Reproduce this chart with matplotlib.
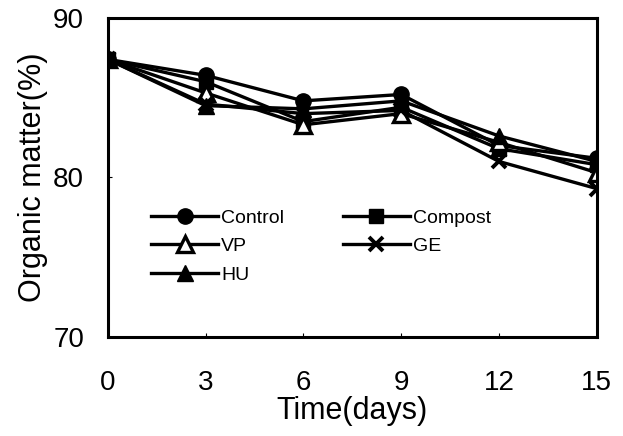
import matplotlib.pyplot as plt

plt.rcParams['font.family'] = ['Liberation Sans', 'DejaVu Sans']

days = [0, 3, 6, 9, 12, 15]
control = [87.4, 86.4, 84.8, 85.2, 82.0, 81.2]
compost = [87.4, 86.0, 83.5, 84.4, 81.8, 80.8]
vp = [87.4, 85.3, 83.3, 84.0, 82.2, 80.3]
ge = [87.4, 84.6, 84.0, 84.2, 81.0, 79.3]
hu = [87.4, 84.5, 84.3, 84.8, 82.6, 81.0]

fig = plt.figure(figsize=(6.23, 4.36), dpi=100)
ax = fig.add_axes([0.173, 0.227, 0.785, 0.732])

lw = 2.4
ms = 11
h_control, = ax.plot(days, control, '-o', color='black', lw=lw, ms=ms, label='Control')
h_compost, = ax.plot(days, compost, '-s', color='black', lw=lw, ms=ms - 1, label='Compost')
h_vp, = ax.plot(days, vp, '-^', color='black', mfc='white', mew=2.4, lw=lw, ms=ms, label='VP')
h_ge, = ax.plot(days, ge, '-x', color='black', mew=2.8, lw=lw, ms=ms - 1, label='GE')
h_hu, = ax.plot(days, hu, '-^', color='black', lw=lw, ms=ms, label='HU')

ax.set_xlim(0, 15)
ax.set_ylim(70, 90)
ax.set_xticks(days)
ax.set_yticks([70, 80, 90])
ax.tick_params(direction='in', length=3, labelsize=20)
ax.tick_params(axis='x', pad=24)
ax.tick_params(axis='y', pad=17)
for s in ax.spines.values():
    s.set_linewidth(2.2)

ax.set_xlabel('Time(days)', fontsize=22, labelpad=0)
ax.set_ylabel('Organic matter(%)', fontsize=22, labelpad=4)

ax.legend([h_control, h_vp, h_hu, h_compost, h_ge],
          ['Control', 'VP', 'HU', 'Compost', 'GE'],
          ncol=2, frameon=False, fontsize=14, handlelength=3.45,
          loc='upper left', bbox_to_anchor=(0.053, 0.455),
          labelspacing=0.55, columnspacing=3.0, handletextpad=0.15)

fig.savefig('out.png', dpi=100)
